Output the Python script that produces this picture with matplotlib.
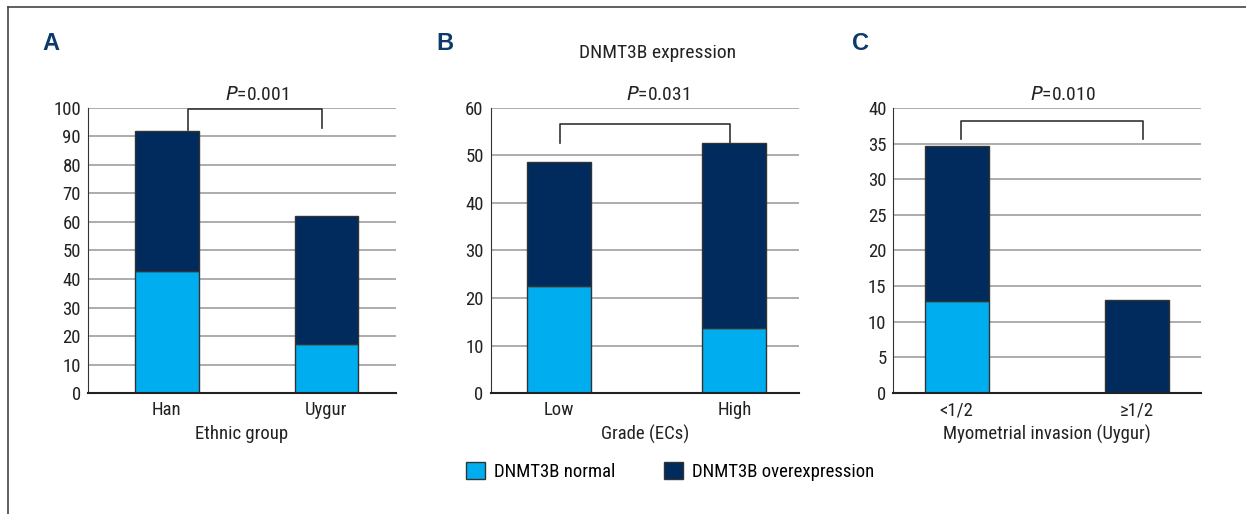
import matplotlib.pyplot as plt
from matplotlib.lines import Line2D
from matplotlib.patches import Patch

narrow = ['Liberation Sans Narrow', 'DejaVu Sans Condensed', 'Roboto Condensed', 'DejaVu Sans']
plt.rcParams['font.family'] = narrow

# data
cats_a = ['Han', 'Uygur']
normal_a = [42.8, 17.3]
over_a = [49.0, 44.9]

cats_b = ['Low', 'High']
normal_b = [22.5, 13.6]
over_b = [26.1, 39.1]

cats_c = ['<1/2', '≥1/2']
normal_c = [12.9, 0]
over_c = [21.8, 13.0]

light = '#00aeef'
dark = '#002b5c'
navy = '#0d3a6b'
grid_col = '#a6a6a6'

fig = plt.figure(figsize=(12.46, 5.14), dpi=100)

panels = [
    # label, cats, normal, over, ymax, step, xlabel, rect, xlim, width, bracket, ptext, ptext x, label x
    ('A', cats_a, normal_a, over_a, 100, 10, 'Ethnic group',
     [0.0706, 0.2354, 0.2472, 0.5545], (-0.495, 1.436), 0.40,
     (0.134, 0.974, 99.6, 92.3, 93.0), '0.001', 0.564, 0.034),
    ('B', cats_b, normal_b, over_b, 60, 10, 'Grade (ECs)',
     [0.3938, 0.2354, 0.2472, 0.5545], (-0.389, 1.366), 0.365,
     (0.005, 0.973, 56.6, 52.7, 52.7), '0.031', 0.56, 0.350),
    ('C', cats_c, normal_c, over_c, 40, 5, 'Myometrial invasion (Uygur)',
     [0.7170, 0.2354, 0.2467, 0.5545], (-0.35, 1.353), 0.354,
     (0.023, 1.032, 38.2, 35.6, 35.6), '0.010', 0.59, 0.684),
]

fs = 13.5
for lab, cats, nrm, ovr, ymax, step, xlab, rect, xlim, w, br, ptxt, px, lx in panels:
    ax = fig.add_axes(rect)
    x = list(range(len(cats)))
    ax.set_axisbelow(True)
    ax.bar(x, nrm, width=w, color=light, edgecolor='#333333', linewidth=1.0)
    ax.bar(x, ovr, width=w, bottom=nrm, color=dark, edgecolor='#333333', linewidth=1.0)
    ax.set_xlim(*xlim)
    ax.set_ylim(0, ymax)
    ax.set_yticks(range(0, ymax + 1, step))
    ax.yaxis.grid(True, color=grid_col, linewidth=1.3)
    ax.set_xticks(x)
    ax.set_xticklabels(cats)
    ax.tick_params(length=0, labelsize=fs, colors='#222222', pad=5)
    ax.tick_params(axis='x', pad=6)
    for s in ['top', 'right']:
        ax.spines[s].set_visible(False)
    ax.spines['left'].set_color('#333333')
    ax.spines['bottom'].set_color('#222222')
    ax.spines['bottom'].set_linewidth(1.5)
    ax.set_xlabel(xlab, fontsize=fs, color='#222222', labelpad=4)
    x0, x1, yt, yl, yr = br
    ax.plot([x0, x0, x1, x1], [yl, yt, yt, yr], color='#333333', linewidth=1.2,
            clip_on=False)
    ax.text(px, ymax * 1.015, '$\\it{P}$=' + ptxt, ha='center', va='bottom',
            fontsize=fs + 0.5, color='#222222')
    fig.text(lx, 0.915, lab, fontsize=17, fontweight='bold', color=navy,
             family=['Liberation Sans', 'DejaVu Sans'], va='center')

fig.text(0.528, 0.897, 'DNMT3B expression', ha='center', va='center', fontsize=fs + 0.5,
         color='#222222')

handles = [Patch(facecolor=light, edgecolor='#333333', label='DNMT3B normal'),
           Patch(facecolor=dark, edgecolor='#333333', label='DNMT3B overexpression')]
fig.legend(handles=handles, loc='center', bbox_to_anchor=(0.538, 0.083), ncol=2,
           frameon=False, fontsize=fs, handlelength=1.0, handleheight=1.0,
           columnspacing=2.6, handletextpad=0.5)

# panel frame
fig.add_artist(Line2D([0.0064, 0.0064], [0.0, 0.986], color='#444444', linewidth=1.2))
fig.add_artist(Line2D([0.0064, 1.0], [0.986, 0.986], color='#444444', linewidth=1.2))

fig.savefig('out.png', dpi=100)
